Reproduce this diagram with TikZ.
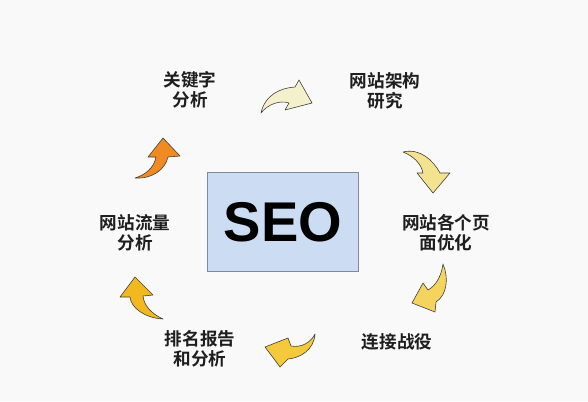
\documentclass[tikz,border=0pt]{standalone}
\usepackage{fontspec}
\setsansfont{Liberation Sans}
\newfontfamily\cjk{Noto Sans CJK SC}[BoldFont={Noto Sans CJK SC Bold}]
\definecolor{bgc}{HTML}{F9F9F9}
\definecolor{boxfill}{HTML}{CCDCF2}
\definecolor{boxline}{HTML}{7A8AA0}
\definecolor{txt}{HTML}{1E1E1E}
\definecolor{cA}{HTML}{F5F0CC}
\definecolor{cB}{HTML}{F3E38E}
\definecolor{cC}{HTML}{F4D45E}
\definecolor{cD}{HTML}{F4C93C}
\definecolor{cE}{HTML}{F2B820}
\definecolor{cF}{HTML}{F08A22}
\tikzset{
  lbl/.style={align=center, text=txt, inner sep=0pt,
    font=\cjk\bfseries\fontsize{17.6}{20}\selectfont},
  blockarrow/.style={draw=black!75, line width=0.6pt, line join=round}
}
\begin{document}
\begin{tikzpicture}[x=1pt,y=-1pt]
\fill[bgc] (0,0) rectangle (588,401);
\useasboundingbox (0,0) rectangle (588,401);
% central box
\node[draw=boxline, fill=boxfill, line width=1pt, minimum width=151pt, minimum height=99pt,
  inner sep=0pt, font=\sffamily\bfseries\fontsize{56}{60}\selectfont] (seo) at (283,222) {SEO};
% labels
\node[lbl] (kw) at (190,90) {关键字\\分析};
\node[lbl] (arch) at (385,91) {网站架构\\研究};
\node[lbl] (page) at (446,233) {网站各个页\\面优化};
\node[lbl] (link) at (397,342) {连接战役};
\node[lbl] (rank) at (200,349) {排名报告\\和分析};
\node[lbl] (flow) at (135,233) {网站流量\\分析};
% arrows
\draw[blockarrow, fill=cA] (261,113) .. controls (265,95) and (280,88) .. (295,87)
  -- (299,80) -- (312,103) -- (285,110) -- (289,103)
  .. controls (280,100) and (268,104) .. (261,113) -- cycle;
\draw[blockarrow, fill=cB] (403,152) .. controls (420,148) and (433,160) .. (440,173)
  -- (450,173) -- (433,193) -- (417,173) -- (423,173)
  .. controls (421,163) and (413,156) .. (403,152) -- cycle;
\draw[blockarrow, fill=cC] (443,264) .. controls (449,278) and (447,295) .. (436,302)
  -- (435,312) -- (412,303) -- (423,283) -- (428,290)
  .. controls (435,286) and (441,278) .. (443,264) -- cycle;
\draw[blockarrow, fill=cD] (315,334) .. controls (314,350) and (300,358) .. (288,359)
  -- (280,367) -- (265,347) -- (288,338) -- (291,346)
  .. controls (302,348) and (311,342) .. (315,334) -- cycle;
\draw[blockarrow, fill=cE] (163,319) .. controls (152,314) and (144,306) .. (143,296)
  -- (153,295) -- (135,277) -- (120,297) -- (130,297)
  .. controls (131,308) and (145,318) .. (163,319) -- cycle;
\draw[blockarrow, fill=cF] (135,178) .. controls (152,179) and (165,170) .. (168,157)
  -- (180,156) -- (163,138) -- (148,157) -- (156,157)
  .. controls (154,168) and (145,175) .. (135,178) -- cycle;
\end{tikzpicture}
\end{document}
